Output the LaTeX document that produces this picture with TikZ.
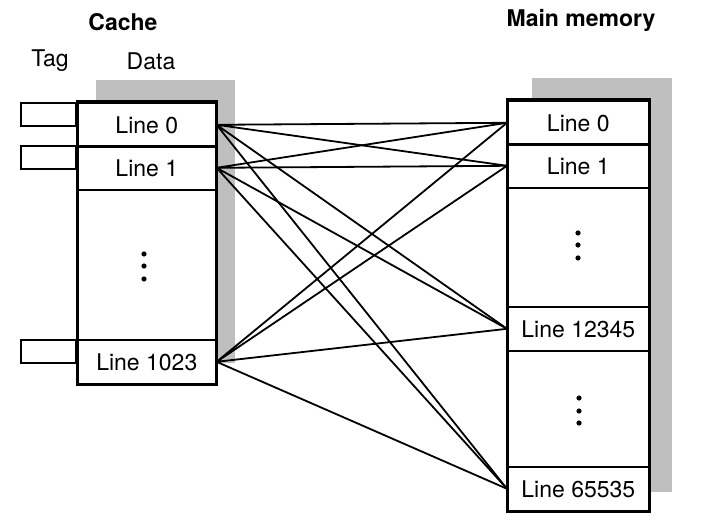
\documentclass[tikz,border=0pt]{standalone}
\usepackage{fontspec}
\setmainfont{TeX Gyre Heros}
\usetikzlibrary{backgrounds}
\begin{document}
\begin{tikzpicture}[x=0.5pt, y=-0.5pt,
  every node/.style={font=\fontsize{11.5}{13}\selectfont},
  title/.style={font=\fontsize{11.5}{13}\selectfont\bfseries},
  cacherow/.style={draw, line width=0.8pt, minimum width=69pt, minimum height=22pt, inner sep=0pt, anchor=north west},
  memrow/.style={cacherow, minimum width=70.5pt},
  tagbox/.style={draw, line width=0.8pt, minimum width=27.5pt, minimum height=11.5pt, inner sep=0pt, anchor=north east},
  frame/.style={draw, line width=1.5pt},
  shade/.style={fill=black!25},
  link/.style={line width=0.9pt},
  dot/.style={circle, fill=black, inner sep=0pt, minimum size=2.6pt}]
\useasboundingbox (0,0) rectangle (716,523);
\node[title] (cachetitle) at (123,22) {Cache};
\node (tagtitle) at (50,61) {Tag};
\node (datatitle) at (151,61) {Data};
\node[title] (memtitle) at (581,20) {Main memory};
\node[cacherow] (c0) at (77,102) {Line 0};
\node[cacherow] (c1) at (77,145) {Line 1};
\node[cacherow] (c1023) at (77,339) {Line 1023};
\node[tagbox] (t0) at (c0.north west) {};
\node[tagbox] (t1) at (c1.north west) {};
\node[tagbox] (t1023) at (c1023.north west) {};
\node[dot] (cd1) at (144,254) {};
\node[dot] (cd2) at (144,266) {};
\node[dot] (cd3) at (144,279) {};
\node[memrow] (m0) at (507,100) {Line 0};
\node[memrow] (m1) at (507,143) {Line 1};
\node[memrow] (m12345) at (507,306) {Line 12345};
\node[memrow] (m65535) at (507,466) {Line 65535};
\node[dot] (md1) at (578,233) {};
\node[dot] (md2) at (578,245) {};
\node[dot] (md3) at (578,258) {};
\node[dot] (md4) at (579,398) {};
\node[dot] (md5) at (579,411) {};
\node[dot] (md6) at (579,423) {};
\begin{scope}[on background layer]
\fill[shade] ([shift={(19,-22)}]c0.north west) rectangle ([shift={(18,-22)}]c1023.south east);
\fill[white] (c0.north west) rectangle (c1023.south east);
\fill[shade] ([shift={(25,-22)}]m0.north west) rectangle ([shift={(22,-20)}]m65535.south east);
\fill[white] (m0.north west) rectangle (m65535.south east);
\end{scope}
\draw[frame] (c0.north west) rectangle (c1023.south east);
\draw[frame] (m0.north west) rectangle (m65535.south east);
\draw[link] (c0.east) -- (m0.west) (c0.east) -- (m1.west) (c0.east) -- (m12345.west) (c0.east) -- (m65535.west);
\draw[link] (c1.east) -- (m0.west) (c1.east) -- (m1.west) (c1.east) -- (m12345.west) (c1.east) -- (m65535.west);
\draw[link] (c1023.east) -- (m0.west) (c1023.east) -- (m1.west) (c1023.east) -- (m12345.west) (c1023.east) -- (m65535.west);
\end{tikzpicture}
\end{document}
